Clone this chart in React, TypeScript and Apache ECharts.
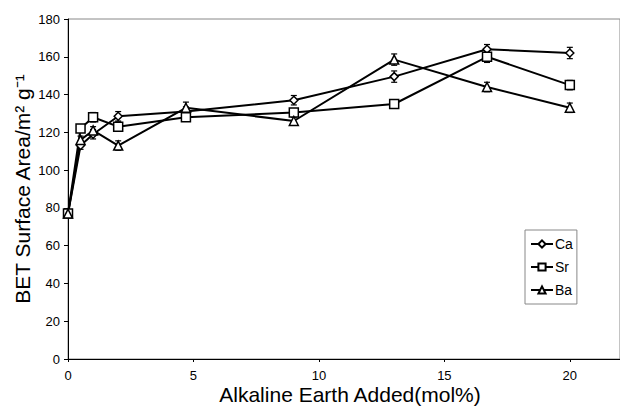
import React, { useEffect, useRef } from "react";
import * as echarts from "echarts";

const xValues = [0, 0.5, 1, 2, 4.7, 9, 13, 16.7, 20];
const caValues = [77, 113, 119, 128.5, 131, 137, 149.5, 164, 162];
const srValues = [77, 122, 128, 123, 128, 130.5, 135, 160, 145];
const baValues = [77, 116, 121, 113, 133, 126, 158.5, 144, 133];
const caErr = [0, 2, 2.5, 2.5, 2.5, 2.5, 3, 2.5, 3];
const srErr = [0, 2, 2.5, 2.5, 2, 2, 2, 3, 2.5];
const baErr = [0, 2, 2, 2.5, 3, 2, 3, 2.5, 2.5];
const seriesNames = ["Ca", "Sr", "Ba"];
const xTicks = [0, 5, 10, 15, 20];
const yTicks = [0, 20, 40, 60, 80, 100, 120, 140, 160, 180];

const FONT = "Liberation Sans, Arial, sans-serif";

function errorSeries(values: number[], errs: number[]) {
  const data = xValues.map((x, i) => [x, values[i] - errs[i], values[i] + errs[i]]);
  return {
    type: "custom",
    silent: true,
    z: 1,
    renderItem: (params: any, api: any) => {
      const x = api.value(0);
      const lo = api.coord([x, api.value(1)]);
      const hi = api.coord([x, api.value(2)]);
      if (Math.abs(hi[1] - lo[1]) < 0.5) return { type: "group", children: [] };
      const w = 3;
      const st = { stroke: "#000", lineWidth: 1.2 };
      return {
        type: "group",
        children: [
          { type: "line", shape: { x1: lo[0], y1: lo[1], x2: hi[0], y2: hi[1] }, style: st },
          { type: "line", shape: { x1: lo[0] - w, y1: lo[1], x2: lo[0] + w, y2: lo[1] }, style: st },
          { type: "line", shape: { x1: hi[0] - w, y1: hi[1], x2: hi[0] + w, y2: hi[1] }, style: st },
        ],
      };
    },
    data,
  };
}

function lineSeries(name: string, values: number[], symbol: string, size: number) {
  return {
    name,
    type: "line",
    z: 3,
    data: xValues.map((x, i) => [x, values[i]]),
    symbol,
    symbolSize: size,
    showAllSymbol: true,
    lineStyle: { color: "#000", width: 2 },
    itemStyle: { color: "#fff", borderColor: "#000", borderWidth: 1.5 },
  };
}

export default function App() {
  const ref = useRef<HTMLDivElement>(null);
  useEffect(() => {
    document.body.style.margin = "0";
    const chart = echarts.init(ref.current!, undefined, { renderer: "svg" });
    chart.setOption({
      animation: false,
      backgroundColor: "#fff",
      textStyle: { fontFamily: FONT },
      grid: {
        left: 68,
        top: 19,
        width: 560,
        height: 340,
        show: true,
        borderColor: "#888",
        borderWidth: 1,
      },
      legend: {
        data: seriesNames,
        orient: "vertical",
        left: 525,
        top: 230,
        width: 49,
        itemWidth: 22,
        itemHeight: 9,
        itemGap: 9,
        padding: [7, 4, 7, 5],
        borderColor: "#888",
        borderWidth: 1,
        backgroundColor: "#fff",
        textStyle: { fontFamily: FONT, fontSize: 14, color: "#000", padding: [0, 0, 0, -3] },
      },
      xAxis: {
        type: "value",
        min: 0,
        max: 22,
        interval: 5,
        splitLine: { show: false },
        axisLine: { lineStyle: { color: "#000", width: 1 } },
        axisTick: { length: 3, lineStyle: { color: "#000" } },
        axisLabel: {
          color: "#000",
          fontSize: 13,
          fontFamily: FONT,
          margin: 10,
          showMaxLabel: false,
          formatter: (v: number) => (xTicks.includes(v) ? String(v) : ""),
        },
      },
      yAxis: {
        type: "value",
        min: 0,
        max: 180,
        interval: 20,
        splitLine: { show: false },
        axisLine: { show: true, lineStyle: { color: "#000", width: 1 } },
        axisTick: { show: true, length: 4, lineStyle: { color: "#000" } },
        axisLabel: {
          color: "#000",
          fontSize: 13,
          fontFamily: FONT,
          margin: 8,
          formatter: (v: number) => (yTicks.includes(v) ? String(v) : ""),
        },
      },
      graphic: [
        {
          type: "text",
          x: 350,
          y: 394,
          style: {
            text: "Alkaline Earth Added(mol%)",
            font: `21px ${FONT}`,
            fill: "#000",
            align: "center",
            verticalAlign: "middle",
          },
        },
        {
          type: "text",
          x: 22,
          y: 189,
          rotation: Math.PI / 2,
          style: {
            text: "BET Surface Area/m² g⁻¹",
            font: `21px ${FONT}`,
            fill: "#000",
            align: "center",
            verticalAlign: "middle",
          },
        },
      ],
      series: [
        errorSeries(caValues, caErr),
        errorSeries(srValues, srErr),
        errorSeries(baValues, baErr),
        lineSeries("Ca", caValues, "diamond", 8),
        lineSeries("Sr", srValues, "rect", 9),
        lineSeries("Ba", baValues, "triangle", 9),
      ],
    });
    return () => chart.dispose();
  }, []);
  return (
    <div
      ref={ref}
      style={{ position: "absolute", left: 0, top: 0, width: 620, height: 407 }}
    />
  );
}
